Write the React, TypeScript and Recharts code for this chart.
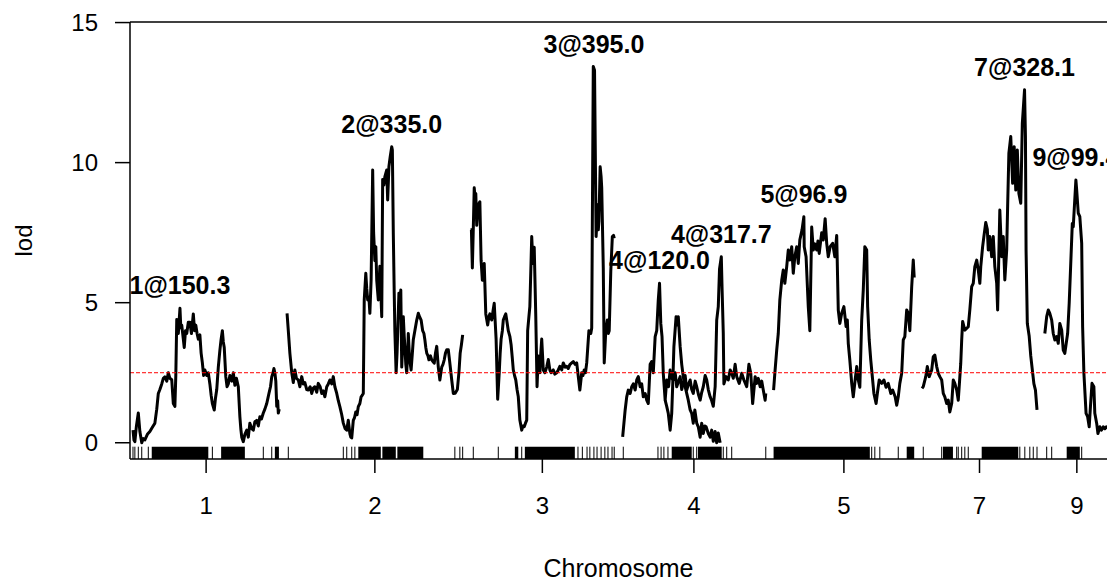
import React from "react";
import { ComposedChart, Line, Scatter, XAxis, YAxis, ReferenceLine, ReferenceArea } from "recharts";

const font = "'Liberation Sans', Arial, sans-serif";

// chromosomes in the scan and their lengths (cM)
const chrNames = ["1", "2", "3", "4", "5", "7", "9"];
const chrLengths = [468, 562, 460, 460, 450, 368, 205];
const chrGap = 25;

// lod profiles: [position cM, lod]
const lod1: [number, number][] = [
  [0, 0.45], [3, 0.1], [6, 0.04], [11, 0.6], [17, 1.06], [22, 0.4], [28, 0.0], [33, 0.15], [38, 0.1], [46, 0.3],
  [54, 0.4], [62, 0.55], [70, 0.7], [76, 1.2], [81, 1.76], [86, 1.9], [92, 2.1], [97, 2.3], [102, 2.35], [108, 2.2],
  [113, 2.5], [118, 2.3], [124, 2.25], [129, 1.4], [134, 1.3], [137, 2.4], [140, 4.4], [145, 3.9], [150.3, 4.8], [153, 4.1],
  [156, 4.2], [160, 3.8], [164, 3.4], [168, 4.0], [172, 3.9], [177, 4.3], [182, 4.3], [187, 3.9], [193, 4.6], [197, 4.0],
  [201, 4.2], [205, 3.9], [209, 3.7], [214, 3.85], [218, 3.2], [222, 2.85], [226, 2.4], [230, 2.6], [236, 2.4], [241, 2.5],
  [246, 2.1], [250, 1.7], [254, 1.4], [260, 1.17], [264, 1.6], [268, 1.9], [273, 2.7], [278, 3.3], [282, 3.7], [286, 4.0],
  [289, 3.6], [292, 3.4], [297, 2.35], [301, 2.0], [305, 2.1], [310, 2.4], [316, 2.2], [321, 2.5], [326, 2.05], [331, 2.3],
  [337, 2.0], [342, 0.93], [345, 0.5], [348, 0.2], [353, 0.04], [358, 0.3], [364, 0.45], [369, 0.2], [374, 0.7], [380, 0.5],
  [385, 0.45], [390, 0.75], [396, 0.8], [401, 0.6], [406, 0.93], [411, 0.85], [417, 1.06], [422, 1.2], [428, 1.4], [432, 1.6],
  [435, 1.76], [440, 2.0], [444, 2.35], [448, 2.5], [451, 2.65], [454, 2.5], [457, 2.2], [460, 1.3], [463, 1.5], [465, 1.06],
  [468, 1.2],
];

const lod2: [number, number][] = [
  [0, 4.62], [4, 4.0], [9, 3.2], [15, 2.5], [20, 2.15], [25, 2.6], [30, 2.3], [36, 2.24], [41, 2.0], [47, 2.36],
  [52, 2.1], [57, 2.15], [63, 1.9], [68, 1.88], [74, 2.0], [79, 1.76], [84, 1.95], [89, 2.0], [95, 1.8], [100, 2.12],
  [106, 2.0], [111, 1.76], [116, 1.85], [121, 1.64], [127, 2.0], [132, 2.1], [137, 2.24], [143, 2.1], [148, 2.36], [153, 2.0],
  [159, 1.76], [164, 1.5], [169, 1.29], [175, 1.0], [180, 0.7], [186, 0.5], [191, 0.45], [196, 0.8], [201, 0.33], [204, 0.2],
  [207, 0.17], [212, 0.8], [216, 0.9], [220, 1.1], [224, 1.0], [228, 1.29], [233, 1.4], [237, 1.64], [241, 1.7], [244, 1.76],
  [247, 5.1], [252, 6.05], [255, 5.5], [258, 5.1], [262, 5.2], [265, 4.62], [269, 5.8], [274, 9.74], [277, 7.5], [281, 6.5],
  [284, 7.0], [287, 5.8], [292, 5.1], [297, 6.3], [303, 4.5], [306, 9.4], [310, 9.2], [313, 9.5], [319, 9.74], [322, 8.67],
  [326, 9.86], [330, 10.2], [335, 10.57], [337, 10.45], [340, 7.5], [343, 5.34], [345, 4.0], [349, 2.5], [352, 3.2], [354, 3.9],
  [358, 5.34], [361, 4.8], [364, 5.45], [367, 2.7], [370, 3.5], [372, 4.5], [375, 3.8], [377, 3.44], [380, 2.8], [383, 2.5],
  [386, 3.2], [388, 3.9], [392, 3.0], [397, 2.6], [401, 3.2], [404, 3.68], [409, 4.0], [415, 4.38], [420, 4.62], [424, 4.5],
  [429, 4.38], [434, 4.0], [438, 3.9], [441, 3.68], [444, 3.4], [447, 3.2], [451, 3.1], [454, 2.96], [459, 3.1], [463, 2.96],
  [467, 2.9], [471, 2.84], [475, 3.2], [479, 3.44], [484, 2.7], [489, 2.24], [495, 2.7], [499, 2.8], [503, 2.96], [507, 3.2],
  [511, 3.32], [516, 3.32], [521, 2.84], [527, 2.24], [532, 1.76], [538, 1.77], [545, 1.9], [550, 2.5], [554, 3.2], [558, 3.5],
  [562, 3.85],
];

const lod3: [number, number][] = [
  [0, 7.6], [3, 7.6], [6, 6.24], [9, 7.64], [12, 9.1], [15, 8.7], [17, 8.9], [20, 7.76], [25, 8.5], [30, 8.6],
  [34, 6.5], [38, 5.8], [41, 6.2], [44, 6.4], [49, 4.6], [52, 4.4], [55, 4.2], [59, 4.5], [62, 4.6], [68, 4.38],
  [72, 4.7], [76, 4.98], [82, 3.7], [87, 1.55], [92, 2.5], [95, 3.2], [98, 3.7], [102, 4.0], [105, 4.38], [109, 4.5],
  [113, 4.6], [117, 4.3], [121, 4.0], [126, 3.8], [130, 3.5], [134, 3.0], [137, 2.6], [141, 2.4], [145, 2.24], [149, 1.9],
  [153, 1.64], [158, 0.81], [164, 0.45], [168, 0.6], [172, 0.57], [176, 0.7], [180, 0.81], [183, 4.0], [187, 4.5], [190, 4.86],
  [196, 7.36], [199, 6.6], [201, 6.4], [204, 6.98], [207, 5.5], [209, 4.5], [213, 2.0], [217, 3.1], [222, 2.5], [225, 3.2],
  [228, 3.7], [233, 2.6], [238, 2.5], [244, 2.7], [249, 2.97], [254, 2.6], [258, 2.5], [265, 2.6], [270, 2.45], [276, 2.5],
  [281, 2.6], [286, 2.73], [292, 2.6], [297, 2.85], [303, 2.7], [308, 2.73], [313, 2.65], [318, 2.79], [324, 2.85], [329, 2.9],
  [335, 2.8], [340, 2.85], [345, 2.36], [350, 1.88], [356, 2.5], [360, 2.4], [364, 2.6], [368, 2.5], [372, 2.85], [379, 4.0],
  [385, 3.9], [388, 4.1], [393, 13.43], [397, 13.3], [402, 7.36], [405, 8.0], [407, 8.5], [409, 7.6], [411, 7.9], [415, 9.85],
  [418, 9.5], [420, 9.1], [425, 6.24], [428, 2.85], [433, 4.0], [438, 4.38], [441, 3.9], [444, 4.0], [449, 6.12], [454, 7.36],
  [458, 7.4], [460, 7.3],
];

const lod4: [number, number][] = [
  [2, 0.21], [10, 1.17], [15, 1.64], [20, 1.88], [26, 1.76], [31, 2.0], [36, 2.1], [42, 1.88], [47, 2.24], [52, 2.36],
  [58, 2.0], [63, 2.1], [68, 1.64], [74, 1.76], [79, 1.52], [84, 1.4], [90, 2.8], [95, 2.9], [100, 2.5], [106, 3.79],
  [111, 4.0], [116, 5.1], [120, 5.69], [124, 4.26], [128, 3.79], [132, 2.48], [138, 1.52], [143, 2.24], [149, 2.0], [154, 2.6],
  [159, 2.3], [164, 2.24], [170, 2.5], [175, 2.0], [181, 2.2], [186, 2.36], [191, 1.9], [196, 2.12], [202, 2.4], [207, 1.88],
  [213, 2.1], [218, 2.24], [223, 1.9], [228, 1.76], [234, 2.2], [239, 2.0], [245, 1.7], [250, 1.52], [255, 1.8], [260, 2.0],
  [266, 2.4], [271, 2.24], [276, 1.9], [282, 1.64], [287, 1.5], [292, 1.3], [298, 2.0], [303, 4.38], [308, 4.86], [312, 6.2],
  [317.7, 6.64], [320, 5.57], [324, 3.9], [326, 2.1], [333, 2.36], [340, 2.24], [346, 2.6], [351, 2.48], [356, 2.3], [362, 2.8],
  [367, 2.36], [375, 2.12], [383, 2.48], [390, 2.24], [399, 2.0], [406, 2.8], [412, 2.48], [418, 1.4], [426, 2.36], [431, 2.12],
  [436, 2.3], [442, 2.0], [447, 2.2], [452, 1.88], [458, 1.52], [460, 1.76],
];

// second trace drawn on chromosome 4
const lod4b: [number, number][] = [
  [138, 1.52], [143, 1.3], [148, 1.05], [154, 0.45], [159, 1.05], [162, 2.0], [166, 3.43], [173, 4.5], [177, 4.2], [180, 4.5],
  [186, 3.43], [191, 2.8], [196, 2.36], [202, 2.0], [207, 1.76], [212, 1.52], [218, 1.17], [223, 1.05], [228, 0.7], [233, 1.17],
  [239, 0.7], [244, 0.57], [250, 0.2], [255, 0.7], [260, 0.33], [265, 0.6], [269, 0.57], [276, 0.33], [282, 0.2], [287, 0.45],
  [292, 0.05], [298, 0.4], [303, 0.0], [308, 0.35], [314, 0.0],
];

const lod5: [number, number][] = [
  [0, 1.88], [4, 2.48], [10, 3.31], [15, 3.9], [20, 5.1], [26, 5.8], [31, 6.17], [36, 5.69], [42, 6.29], [47, 6.88],
  [52, 6.52], [58, 7.0], [63, 6.05], [68, 6.64], [74, 7.0], [79, 6.4], [84, 7.24], [91, 7.6], [96.9, 8.07], [98, 7.0],
  [104, 6.64], [111, 4.86], [116, 4.0], [122, 7.7], [127, 6.88], [132, 7.1], [138, 6.88], [142, 7.2], [146, 6.76], [154, 7.5],
  [159, 7.24], [165, 8.0], [170, 7.12], [175, 6.64], [181, 7.0], [189, 7.12], [196, 6.64], [202, 7.4], [207, 4.74], [212, 4.26],
  [218, 4.62], [225, 4.86], [232, 4.15], [236, 4.38], [239, 3.55], [244, 2.95], [250, 2.12], [255, 1.64], [261, 2.24], [266, 2.72],
  [271, 2.24], [276, 1.98], [282, 4.38], [287, 5.45], [292, 7.0], [298, 6.88], [301, 4.86], [306, 3.67], [311, 2.95], [317, 2.24],
  [321, 1.76], [328, 1.4], [332, 1.76], [338, 2.24], [346, 2.12], [353, 2.24], [360, 1.98], [367, 2.12], [375, 1.76], [381, 1.88],
  [389, 1.64], [394, 1.34], [399, 1.64], [404, 2.12], [410, 2.48], [415, 3.67], [420, 3.79], [426, 4.74], [431, 4.62], [436, 4.0],
  [442, 5.57], [447, 6.52], [450, 5.9],
];

const lod7: [number, number][] = [
  [0, 1.94], [4, 2.0], [12, 2.36], [17, 2.72], [23, 2.36], [31, 2.6], [36, 3.07], [41, 3.13], [47, 2.72], [52, 2.48],
  [57, 2.36], [63, 2.24], [68, 1.76], [73, 1.64], [79, 1.4], [84, 1.52], [89, 1.1], [95, 1.4], [100, 2.24], [105, 2.12],
  [111, 1.88], [116, 1.52], [119, 2.0], [124, 2.84], [127, 3.67], [130, 4.33], [137, 4.02], [148, 4.14], [153, 4.74], [159, 5.57],
  [164, 5.69], [169, 6.29], [175, 6.52], [180, 6.17], [185, 5.69], [188, 6.29], [194, 7.0], [198, 7.36], [204, 7.86], [209, 7.62],
  [212, 6.88], [217, 7.36], [223, 6.64], [228, 7.36], [233, 6.29], [239, 5.69], [242, 4.74], [249, 8.31], [255, 6.64], [260, 7.36],
  [265, 5.81], [271, 6.88], [274, 8.43], [278, 10.34], [284, 10.93], [290, 9.26], [295, 10.57], [300, 9.02], [305, 10.45], [310, 8.9],
  [316, 8.55], [321, 11.4], [328.1, 12.6], [331, 10.93], [333, 6.88], [337, 4.26], [343, 3.8], [348, 3.1], [353, 2.6], [358, 2.11],
  [363, 1.88], [368, 1.17],
];

const lod9: [number, number][] = [
  [0, 3.9], [6, 4.5], [11, 4.74], [16, 4.62], [22, 4.38], [27, 3.9], [32, 3.67], [38, 3.79], [43, 3.55], [48, 4.26],
  [54, 4.02], [59, 3.31], [64, 3.19], [70, 3.67], [73, 3.9], [78, 4.98], [83, 6.4], [88, 7.83], [91, 7.71], [99.4, 9.38],
  [102, 9.02], [107, 8.2], [112, 8.07], [118, 7.12], [121, 4.14], [125, 2.5], [128, 1.88], [132, 1.05], [137, 0.93], [142, 0.57],
  [146, 1.29], [151, 2.12], [157, 2.0], [160, 1.05], [166, 0.69], [170, 0.33], [173, 0.45], [176, 0.57], [181, 0.45], [187, 0.57],
  [192, 0.5], [197, 0.57], [205, 0.5],
];

const traces: { chr: string; points: [number, number][] }[] = [
  { chr: "1", points: lod1 },
  { chr: "2", points: lod2 },
  { chr: "3", points: lod3 },
  { chr: "4", points: lod4 },
  { chr: "4", points: lod4b },
  { chr: "5", points: lod5 },
  { chr: "7", points: lod7 },
  { chr: "9", points: lod9 },
];

// peak annotations: chromosome, position, lod
const peaks: [string, number, number][] = [
  ["1", 150.3, 4.8],
  ["2", 335.0, 10.57],
  ["3", 395.0, 13.43],
  ["4", 120.0, 5.69],
  ["4", 317.7, 6.64],
  ["5", 96.9, 8.07],
  ["7", 328.1, 12.6],
  ["9", 99.4, 9.38],
];

const threshold = 2.5;

// marker positions (rug): single markers and dense runs
const markerTicks: [string, number][] = [
  ["1", 0], ["1", 6], ["1", 17], ["1", 28], ["1", 49], ["1", 254], ["1", 417], ["1", 444],
  ["2", 4], ["2", 180], ["2", 191], ["2", 207], ["2", 217], ["2", 537], ["2", 553], ["2", 562],
  ["3", 9], ["3", 89], ["3", 164], ["3", 344], ["3", 358], ["3", 373], ["3", 382], ["3", 395], ["3", 405], ["3", 418],
  ["3", 430], ["3", 440], ["3", 453], ["3", 460],
  ["4", 4], ["4", 115], ["4", 125], ["4", 134], ["4", 147], ["4", 228], ["4", 239], ["4", 324], ["4", 335], ["4", 351], ["4", 460],
  ["5", 314], ["5", 324], ["5", 340], ["5", 399],
  ["7", 4], ["7", 63], ["7", 111], ["7", 116], ["7", 127], ["7", 137], ["7", 148], ["7", 313], ["7", 329], ["7", 345],
  ["7", 356], ["7", 368],
  ["9", 6], ["9", 22], ["9", 118],
];

const markerBlocks: [string, number, number][] = [
  ["1", 60, 241], ["1", 282, 358], ["1", 454, 467],
  ["2", 228, 300], ["2", 305, 348], ["2", 353, 436],
  ["3", 142, 153], ["3", 174, 334],
  ["4", 159, 223], ["4", 243, 319],
  ["5", 0, 308], ["5", 426, 450],
  ["7", 67, 99], ["7", 191, 308],
  ["9", 70, 112], ["9", 134, 205],
];

const yTicks = [0, 5, 10, 15];
const yDomain: [number, number] = [-0.58, 15.02];
const xDomain: [number, number] = [-9.6, 3117];
const rugTop = -0.14;

const offsets: Record<string, number> = {};
const mids: number[] = [];
const midName: Record<string, string> = {};
{
  let acc = 0;
  chrNames.forEach((c, i) => {
    offsets[c] = acc;
    const m = acc + chrLengths[i] / 2;
    mids.push(m);
    midName[String(m)] = c;
    acc += chrLengths[i] + chrGap;
  });
}

const peakData = peaks.map(([chr, pos, lod]) => ({ g: offsets[chr] + pos, lod, text: `${chr}@${pos.toFixed(1)}` }));

const PeakLabel = (props: any) => {
  const { cx, cy, payload } = props;
  if (cx == null || cy == null) return null;
  return (
    <text x={cx} y={cy - 23} textAnchor="middle" dominantBaseline="central" fontSize={25} fontWeight="bold" fontFamily={font} fill="#000">
      {payload.text}
    </text>
  );
};

const YTitle = (props: any) => {
  const vb = props.viewBox || { x: 0, y: 22, width: 130, height: 437 };
  const x = vb.x + 32;
  const y = vb.y + vb.height / 2;
  return (
    <text x={x} y={y} transform={`rotate(-90 ${x} ${y})`} textAnchor="middle" fontSize={24} fontFamily={font} fill="#000">
      lod
    </text>
  );
};

const XTitle = (props: any) => {
  const vb = props.viewBox || { x: 130, y: 459, width: 977, height: 122 };
  return (
    <text x={vb.x + vb.width / 2} y={vb.y + 118} textAnchor="middle" fontSize={25} fontFamily={font} fill="#000">
      Chromosome
    </text>
  );
};

export default function App() {
  return (
    <div style={{ position: "absolute", left: 0, top: 0, width: 1107, height: 581, overflow: "hidden", background: "#fff" }}>
      <ComposedChart width={1107} height={581} margin={{ top: 22, right: 0, bottom: 0, left: 0 }}>
        <XAxis
          type="number"
          dataKey="g"
          domain={xDomain}
          allowDataOverflow
          ticks={mids}
          tickFormatter={(v: number) => midName[String(v)] ?? ""}
          interval={0}
          height={122}
          tickSize={14}
          tickMargin={24}
          axisLine={{ stroke: "#000", strokeWidth: 1.5 }}
          tickLine={{ stroke: "#000", strokeWidth: 1.5 }}
          tick={{ fontSize: 24, fill: "#000", fontFamily: font }}
          label={<XTitle />}
        />
        <YAxis
          type="number"
          domain={yDomain}
          allowDataOverflow
          ticks={yTicks}
          interval={0}
          width={130}
          tickSize={15}
          tickMargin={17}
          axisLine={{ stroke: "#000", strokeWidth: 1.5 }}
          tickLine={{ stroke: "#000", strokeWidth: 1.5 }}
          tick={{ fontSize: 24, fill: "#000", fontFamily: font }}
          label={<YTitle />}
        />
        <ReferenceLine y={yDomain[1]} stroke="#000" strokeWidth={1.5} />
        {markerBlocks.map(([chr, a, b], i) => (
          <ReferenceArea
            key={`mb${i}`}
            x1={offsets[chr] + a}
            x2={offsets[chr] + b}
            y1={yDomain[0]}
            y2={rugTop}
            fill="#000"
            fillOpacity={1}
            stroke="none"
          />
        ))}
        {markerTicks.map(([chr, p], i) => (
          <ReferenceLine
            key={`mt${i}`}
            segment={[
              { x: offsets[chr] + p, y: yDomain[0] },
              { x: offsets[chr] + p, y: rugTop },
            ]}
            stroke="#000"
            strokeWidth={1}
          />
        ))}
        {traces.map((t, i) => (
          <Line
            key={`tr${i}`}
            data={t.points.map(([pos, lod]) => ({ g: offsets[t.chr] + pos, lod }))}
            dataKey="lod"
            type="linear"
            stroke="#000"
            strokeWidth={3}
            strokeLinejoin="round"
            dot={false}
            activeDot={false}
            isAnimationActive={false}
          />
        ))}
        <ReferenceLine y={threshold} stroke="#ff0000" strokeWidth={1} strokeDasharray="4 2" />
        <Scatter data={peakData} dataKey="lod" shape={PeakLabel} isAnimationActive={false} />
      </ComposedChart>
    </div>
  );
}
